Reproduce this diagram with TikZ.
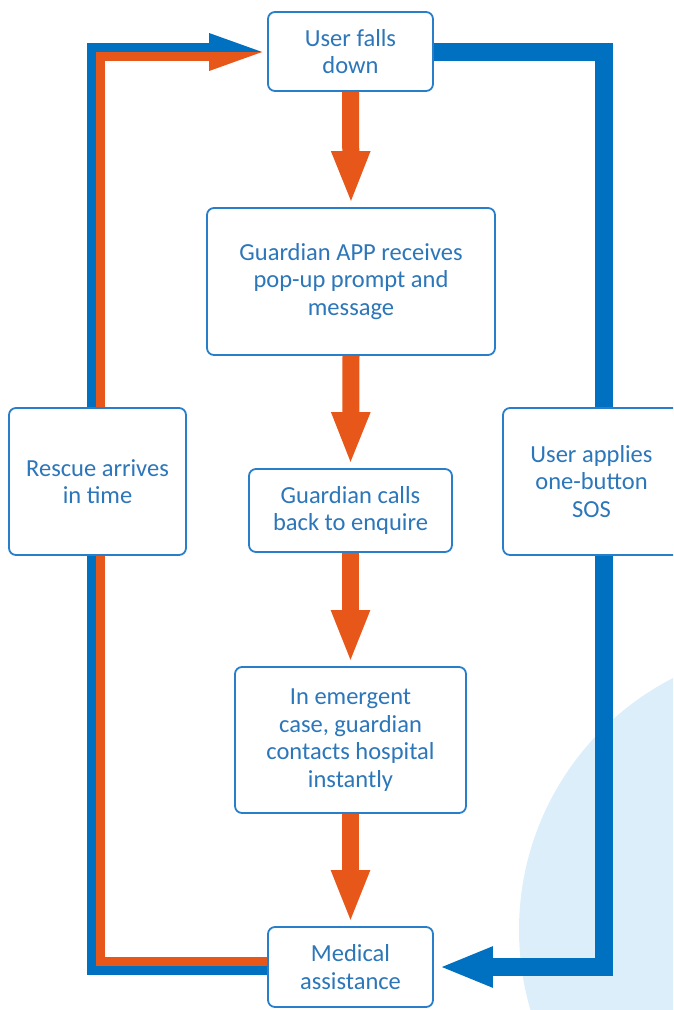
\documentclass[tikz,border=0pt]{standalone}
\usepackage{fontspec}
\setmainfont{Carlito}
\usetikzlibrary{arrows.meta,calc}
\definecolor{lineblue}{RGB}{0,112,192}
\definecolor{lineorange}{RGB}{232,87,26}
\definecolor{boxblue}{RGB}{40,126,200}
\definecolor{textblue}{RGB}{44,118,186}
\definecolor{circleblue}{RGB}{221,238,251}
\begin{document}
\begin{tikzpicture}[x=1pt,y=-1pt,
  box/.style={draw=boxblue, line width=1.8pt, rounded corners=7pt, fill=white,
    align=center, text=textblue, font=\fontsize{24.5}{27.5}\selectfont, inner sep=0pt},
  flow/.style={draw=lineorange, line width=17pt, -{Triangle[length=53pt,width=35pt]}, shorten >=3pt},
  loopblue/.style={draw=lineblue, line width=9pt, line join=miter},
  looporange/.style={draw=lineorange, line width=9pt, line join=miter},
  sosline/.style={draw=lineblue, line width=18pt, line join=miter, -{Triangle[length=54pt,width=37pt]}}]
\useasboundingbox (0,0) rectangle (673,1010);
\clip (0,0) rectangle (673,1010);
\fill[circleblue] (802,930) circle[radius=283pt];

% nodes
\node[box, minimum width=165pt, minimum height=79pt] (top) at (350.5,51.5) {User falls\\down};
\node[box, minimum width=288pt, minimum height=147pt] (app) at (351,281.5) {Guardian APP receives\\pop-up prompt and\\message};
\node[box, minimum width=203pt, minimum height=83pt] (calls) at (350.5,510.5) {Guardian calls\\back to enquire};
\node[box, minimum width=231pt, minimum height=146pt] (emerg) at (350.5,740) {In emergent\\case, guardian\\contacts hospital\\instantly};
\node[box, minimum width=165pt, minimum height=80pt] (med) at (350.5,967) {Medical\\assistance};

% loops (drawn behind side boxes)
\draw[loopblue] ($(med.west)+(0,3.5)$) -| ($(top.west)+(-175.5,-4)$) -- ($(top.west)+(-57,-4)$);
\draw[looporange] ($(med.west)+(0,-5.5)$) -| ($(top.west)+(-166.5,4.5)$) -- ($(top.west)+(-57,4.5)$);
\fill[lineblue] ($(top.west)+(-58,-18.5)$) -- ($(top.west)+(-5,0.5)$) -- ($(top.west)+(-58,0.5)$) -- cycle;
\fill[lineorange] ($(top.west)+(-58,0.5)$) -- ($(top.west)+(-5,0.5)$) -- ($(top.west)+(-58,19.5)$) -- cycle;
\draw[sosline] (top.east) -| ($(med.east)+(170,0)$) -- ($(med.east)+(5,0)$);

\node[box, minimum width=177pt, minimum height=147pt] (rescue) at (97.5,481.5) {Rescue arrives\\in time};
\node[box, minimum width=177pt, minimum height=147pt] (sos) at (591.5,481.5) {User applies\\one-button\\SOS};

% main flow
\draw[flow] (top.south) -- (app.north);
\draw[flow] (app.south) -- (calls.north);
\draw[flow] (calls.south) -- (emerg.north);
\draw[flow] (emerg.south) -- (med.north);
\end{tikzpicture}
\end{document}
